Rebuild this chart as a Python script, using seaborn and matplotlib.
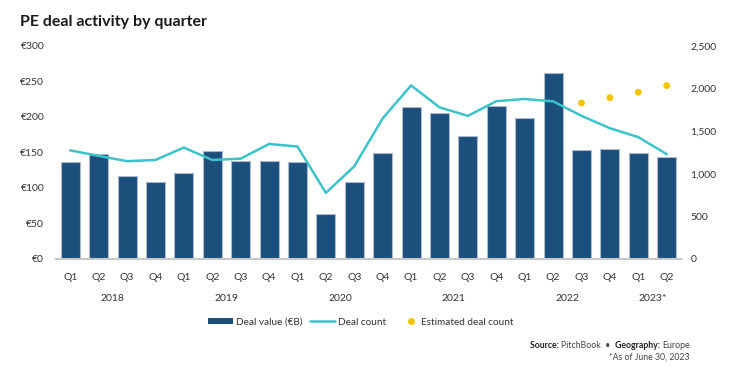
import numpy as np
import pandas as pd
import matplotlib
matplotlib.use("Agg")
import matplotlib.pyplot as plt
import seaborn as sns
from matplotlib.patches import Patch
from matplotlib.lines import Line2D
from matplotlib.legend_handler import HandlerLine2D
from matplotlib import transforms

# ---- data ----
years = ["2018", "2019", "2020", "2021", "2022", "2023*"]
quarters = ["Q1", "Q2", "Q3", "Q4"] * 5 + ["Q1", "Q2"]
deal_value = [136, 148, 117, 108, 121, 152, 138, 138, 136, 63, 108, 149,
              214, 205, 173, 216, 199, 262, 153, 155, 149, 143]
deal_count = [1275, 1210, 1148, 1162, 1308, 1162, 1178, 1350, 1320, 776, 1088, 1650,
              2037, 1780, 1680, 1852, 1878, 1850, 1680, 1535, 1430, 1230]
est_count = [np.nan] * 18 + [1831, 1894, 1957, 2035]
left_ticks = [0, 50, 100, 150, 200, 250, 300]
left_labels = ["€0", "€50", "€100", "€150", "€200", "€250", "€300"]
right_ticks = [0, 500, 1000, 1500, 2000, 2500]
right_labels = ["0", "500", "1,000", "1,500", "2,000", "2,500"]

BAR = "#1d4f7d"
TEAL = "#3cc3c9"
GOLD = "#f5c400"
TXT = "#333333"

n = len(quarters)
df = pd.DataFrame({"pos": np.arange(n), "value": deal_value,
                   "count": deal_count, "est": est_count})

sns.set_style("white")
FONT = ["Lato", "DejaVu Sans"]
plt.rcParams["font.family"] = FONT

fig = plt.figure(figsize=(7.52, 3.67), dpi=100)
ax = fig.add_axes([0.0745, 0.2943, 0.831, 0.5804])

sns.barplot(data=df, x="pos", y="value", ax=ax, color=BAR, width=0.67,
            edgecolor="#a9b9c9", linewidth=0.8, saturation=1)
ax.set_ylim(0, 300)
ax.set_xlim(-0.5, n - 0.5)

tw = ax.twinx()
sns.lineplot(data=df, x="pos", y="count", ax=tw, color=TEAL, linewidth=1.8)
sns.scatterplot(data=df, x="pos", y="est", ax=tw, color=GOLD, s=24,
                edgecolor="none", zorder=5)
tw.set_ylim(0, 2500)
tw.set_xlim(-0.5, n - 0.5)

for a in (ax, tw):
    for s in a.spines.values():
        s.set_visible(False)
    a.set_xlabel("")
    a.set_ylabel("")
    a.grid(False)
ax.spines["bottom"].set_visible(True)
ax.spines["bottom"].set_color("#c8c8c8")
ax.spines["bottom"].set_linewidth(1.5)

ax.set_yticks(left_ticks)
ax.set_yticklabels(left_labels)
tw.set_yticks(right_ticks)
tw.set_yticklabels(right_labels)
ax.set_xticks(np.arange(n))
ax.set_xticklabels(quarters)
ax.tick_params(axis="y", length=0, pad=8.5, labelsize=7.5, labelcolor=TXT)
tw.tick_params(axis="y", length=0, pad=7, labelsize=7.5, labelcolor=TXT)
ax.tick_params(axis="x", length=0, pad=10, labelsize=7.5, labelcolor=TXT)

# year labels centred under each year's quarters
trans = transforms.blended_transform_factory(ax.transData, ax.transAxes)
for i, y in enumerate(years):
    idx = [j for j in range(i * 4, min(i * 4 + 4, n))]
    ax.text(np.mean(idx), -0.185, y, transform=trans, ha="center", va="center",
            fontsize=7.5, color=TXT)

fig.text(0.027, 0.94, "PE deal activity by quarter", fontsize=11.5,
         fontweight="bold", color="#1a1a1a", ha="left", va="center")


class DotHandler(HandlerLine2D):
    def get_xdata(self, legend, xdescent, ydescent, width, height, fontsize):
        x = np.array([width * 0.72 - xdescent])
        return x, x


handles = [Patch(facecolor=BAR, edgecolor="none"),
           Line2D([0], [0], color=TEAL, lw=1.8),
           Line2D([0], [0], marker="o", color="none", markerfacecolor=GOLD,
                  markeredgecolor="none", markersize=5)]
fig.legend(handles, ["Deal value (€B)", "Deal count", "Estimated deal count"],
           loc="center", bbox_to_anchor=(0.48, 0.122), ncol=3, frameon=False,
           fontsize=7.2, handlelength=2.5, handleheight=0.55, columnspacing=0.7,
           handletextpad=0.3, labelcolor=TXT,
           handler_map={handles[2]: DotHandler(numpoints=1)})

# source line, right aligned, mixed weights
fs = 6.3
t1 = fig.text(0.917, 0.047, "Europe", ha="right", va="bottom", fontsize=fs, color="#444444")
a2 = fig.add_artist(plt.Annotation("Geography: ", xy=(0, 0), xycoords=t1, ha="right",
                                   va="bottom", fontsize=fs, fontweight="bold", color="#222222"))
a3 = fig.add_artist(plt.Annotation("PitchBook  •  ", xy=(0, 0), xycoords=a2, ha="right",
                                   va="bottom", fontsize=fs, color="#444444"))
a4 = fig.add_artist(plt.Annotation("Source: ", xy=(0, 0), xycoords=a3, ha="right",
                                   va="bottom", fontsize=fs, fontweight="bold", color="#222222"))
fig.text(0.917, 0.015, "*As of June 30, 2023", ha="right", va="bottom",
         fontsize=fs, color="#444444")

fig.savefig("out.png", dpi=100)
